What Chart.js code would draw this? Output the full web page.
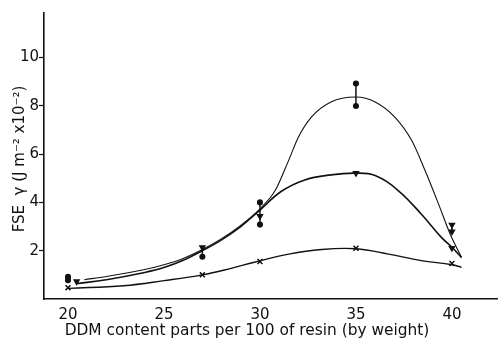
<!DOCTYPE html>
<html>
<head>
<meta charset="utf-8">
<script src="https://cdn.jsdelivr.net/npm/chart.js@4/dist/chart.umd.min.js"></script>
<style>
    body { margin: 0; background: #fff; }
</style>
</head>
<body>
<canvas id="dataChart" width="498" height="338"></canvas>
<script>
const ink = '#111';
const fontName = '"DejaVu Sans", sans-serif';

// axis ticks
const tickX = [20, 25, 30, 35, 40];
const tickY = [2, 4, 6, 8, 10];

const xTitle = 'DDM content parts per 100 of resin (by weight)';
const yTitle = 'FSE  \u03b3 (J m\u207b\u00b2 x10\u207b\u00b2)';

// fitted curves
const topCurveX = [20.85, 22, 24, 25, 26, 27, 28, 29, 30, 30.8, 31.5, 32, 32.7, 33.7, 35, 36, 37, 37.9, 38.6, 39.3, 39.9, 40.5];
const topCurveY = [0.80, 0.93, 1.22, 1.42, 1.68, 2.05, 2.5, 3.05, 3.73, 4.5, 5.75, 6.7, 7.55, 8.16, 8.36, 8.16, 7.55, 6.57, 5.32, 3.94, 2.7, 1.72];

const midCurveX = [20.4, 22, 24, 25, 26, 27, 28, 29, 30, 31.1, 32.3, 33.7, 35, 36, 37.2, 38.4, 39.45, 40, 40.5];
const midCurveY = [0.63, 0.8, 1.1, 1.3, 1.6, 2.0, 2.45, 3.0, 3.68, 4.45, 4.92, 5.14, 5.21, 5.11, 4.49, 3.52, 2.55, 2.14, 1.72];

const lowCurveX = [20.05, 22.9, 25, 27, 28.5, 29.7, 31.5, 33.2, 35, 36.7, 38.4, 40, 40.5];
const lowCurveY = [0.44, 0.55, 0.76, 1.0, 1.27, 1.52, 1.86, 2.05, 2.08, 1.86, 1.59, 1.42, 1.31];

// measured points
const dotX = [20, 20, 27, 30, 30, 35, 35];
const dotY = [0.92, 0.78, 1.75, 4.0, 3.08, 8.92, 7.99];

const barX = [20.45, 27, 30, 35, 40, 40, 40];
const barY = [0.73, 2.14, 3.43, 5.21, 3.07, 2.79, 2.11];

const crossX = [20, 27, 30, 35, 40];
const crossY = [0.47, 1.0, 1.55, 2.1, 1.47];

// scatter ranges
const errX = [27, 30, 35, 40];
const errLo = [1.75, 3.08, 7.99, 2.79];
const errHi = [2.14, 4.0, 8.92, 3.07];

const toPoints = (xs, ys) => xs.map((x, i) => ({x: x, y: ys[i]}));

function curve(xs, ys, width, smooth) {
    return {
        data: toPoints(xs, ys),
        showLine: true,
        borderColor: ink,
        borderWidth: width,
        pointRadius: 0,
        tension: 0.4,
        cubicInterpolationMode: smooth,
        fill: false
    };
}

function marks(xs, ys, style, radius, rotation) {
    return {
        data: toPoints(xs, ys),
        showLine: false,
        pointStyle: style,
        pointRadius: radius,
        rotation: rotation || 0,
        backgroundColor: ink,
        borderColor: ink,
        borderWidth: 1.5
    };
}

const datasets = [
    curve(topCurveX, topCurveY, 1.1, 'monotone'),
    curve(midCurveX, midCurveY, 1.6, 'default'),
    curve(lowCurveX, lowCurveY, 1.4, 'default')
];

errX.forEach((x, i) => {
    datasets.push({
        data: [{x: x, y: errLo[i]}, {x: x, y: errHi[i]}],
        showLine: true,
        borderColor: ink,
        borderWidth: 1.5,
        pointRadius: 0
    });
});

datasets.push(marks(dotX, dotY, 'circle', 2.3));
datasets.push(marks(barX, barY, 'triangle', 2.8, 180));
datasets.push(marks(crossX, crossY, 'crossRot', 3.5));

const titlePlugin = {
    id: 'axisTitles',
    afterDraw(c) {
        const ctx = c.ctx;
        ctx.save();
        ctx.fillStyle = ink;
        ctx.textBaseline = 'alphabetic';
        ctx.textAlign = 'center';
        ctx.font = '15.4px ' + fontName;
        ctx.fillText(xTitle, 247, 335);
        ctx.translate(24, 159);
        ctx.rotate(-Math.PI / 2);
        ctx.font = '15px ' + fontName;
        ctx.fillText(yTitle, 0, 0);
        ctx.restore();
    }
};

function noPadding(s) {
    s.paddingLeft = 0;
    s.paddingRight = 0;
    s.paddingTop = 0;
    s.paddingBottom = 0;
}

let chart = new Chart(document.getElementById('dataChart'), {
    type: 'scatter',
    data: {
        datasets: datasets
    },
    options: {
        responsive: false,
        animation: false,
        layout: {
            autoPadding: false,
            padding: {top: 13, right: 0, bottom: 0, left: 0}
        },
        scales: {
            x: {
                type: 'linear',
                min: 18.75,
                max: 42.4,
                afterFit: function (s) { s.height = 39; noPadding(s); },
                afterBuildTicks: function (s) { s.ticks = tickX.map(v => ({value: v})); },
                border: {color: ink, width: 1.6},
                grid: {display: true, drawOnChartArea: false, drawTicks: false},
                ticks: {
                    color: ink,
                    padding: 7,
                    font: {family: fontName, size: 15}
                }
            },
            y: {
                type: 'linear',
                min: 0,
                max: 11.84,
                afterFit: function (s) { s.width = 44; noPadding(s); },
                afterBuildTicks: function (s) { s.ticks = tickY.map(v => ({value: v})); },
                border: {color: ink, width: 1.6},
                grid: {display: true, drawOnChartArea: false, tickLength: 5, color: ink, tickWidth: 1.2},
                ticks: {
                    color: ink,
                    padding: 0,
                    font: {family: fontName, size: 15}
                }
            }
        },
        plugins: {
            legend: {display: false},
            tooltip: {enabled: false}
        }
    },
    plugins: [titlePlugin]
});
</script>
</body>
</html>
